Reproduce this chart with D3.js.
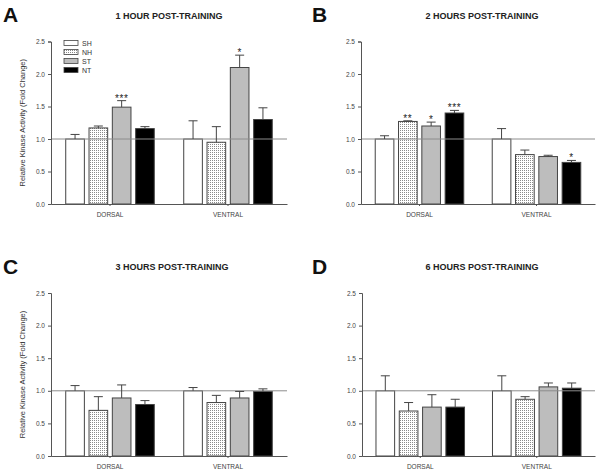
<!DOCTYPE html>
<html><head><meta charset="utf-8">
<script src="https://cdn.jsdelivr.net/npm/d3@7"></script>
<style>body{margin:0;background:#fff}svg{display:block;font-family:"Liberation Sans",Arial,sans-serif}</style>
</head><body>
<svg id="c" width="600" height="471"></svg>
<script>
const regions = ["DORSAL", "VENTRAL"];
const series = ["SH", "NH", "ST", "NT"];
const yTicks = [0, 0.5, 1.0, 1.5, 2.0, 2.5];
const panelLetters = ["A", "B", "C", "D"];
const panelTitles = ["1 HOUR POST-TRAINING", "2 HOURS POST-TRAINING", "3 HOURS POST-TRAINING", "6 HOURS POST-TRAINING"];
// means [region][series] per panel
const meansA = [[1.00, 1.17, 1.49, 1.16], [1.00, 0.95, 2.10, 1.30]];
const errTopA = [[1.07, 1.20, 1.59, 1.19], [1.28, 1.19, 2.29, 1.48]];
const starsA = [["", "", "***", ""], ["", "", "*", ""]];
const meansB = [[1.00, 1.27, 1.20, 1.40], [1.00, 0.76, 0.73, 0.64]];
const errTopB = [[1.05, 1.28, 1.26, 1.44], [1.16, 0.83, 0.75, 0.67]];
const starsB = [["", "**", "*", "***"], ["", "", "", "*"]];
const meansC = [[1.00, 0.70, 0.89, 0.79], [1.00, 0.82, 0.89, 0.99]];
const errTopC = [[1.08, 0.91, 1.09, 0.85], [1.05, 0.93, 0.99, 1.03]];
const starsC = [["", "", "", ""], ["", "", "", ""]];
const meansD = [[1.00, 0.69, 0.75, 0.75], [1.00, 0.87, 1.06, 1.04]];
const errTopD = [[1.23, 0.82, 0.94, 0.87], [1.23, 0.91, 1.12, 1.12]];
const starsD = [["", "", "", ""], ["", "", "", ""]];
const yLabel = "Relative Kinase Activity (Fold Change)";

const allMeans = [meansA, meansB, meansC, meansD];
const allErr = [errTopA, errTopB, errTopC, errTopD];
const allStars = [starsA, starsB, starsC, starsD];

const svg = d3.select("#c");
const defs = svg.append("defs");
const pat = defs.append("pattern").attr("id", "dots").attr("width", 2).attr("height", 2).attr("patternUnits", "userSpaceOnUse");
pat.append("rect").attr("width", 2).attr("height", 2).attr("fill", "#fff");
pat.append("rect").attr("width", 1).attr("height", 1).attr("fill", "#8a8a8a");

const fills = {SH: "#ffffff", NH: "url(#dots)", ST: "#bdbdbd", NT: "#000000"};

const layout = [
  {x0: 51, x1: 287, yBot: 204, yTop: 41.5, title: [169, 18.5], letter: [3, 22], ylab: true},
  {x0: 361, x1: 595, yBot: 204, yTop: 41.5, title: [482, 18.5], letter: [312, 22], ylab: false},
  {x0: 51, x1: 287, yBot: 456, yTop: 293, title: [172, 270], letter: [3, 274], ylab: true},
  {x0: 362, x1: 595, yBot: 456, yTop: 293, title: [482, 270], letter: [312, 274], ylab: false}
];

layout.forEach((L, p) => {
  const g = svg.append("g");
  const y = d3.scaleLinear().domain([0, 2.5]).range([L.yBot, L.yTop]);
  const x = d3.scaleBand().domain(regions).range([L.x0, L.x1]).padding(0);
  const half = 46.6;
  const xs = d3.scaleBand().domain(series).range([-half, half]).paddingInner(0.2).paddingOuter(0.1);

  g.append("text").attr("x", L.letter[0]).attr("y", L.letter[1]).attr("font-size", 21).attr("font-weight", "bold").attr("fill", "#111").text(panelLetters[p]);
  g.append("text").attr("x", L.title[0]).attr("y", L.title[1]).attr("text-anchor", "middle").attr("font-size", 9).attr("font-weight", "bold").attr("fill", "#222").text(panelTitles[p]);

  regions.forEach((r, ri) => {
    const cx = x(r) + x.bandwidth() / 2;
    series.forEach((s, si) => {
      const v = allMeans[p][ri][si];
      g.append("rect")
        .attr("x", cx + xs(s)).attr("width", xs.bandwidth())
        .attr("y", y(v)).attr("height", y(0) - y(v))
        .attr("fill", fills[s]).attr("stroke", "#444").attr("stroke-width", 1);
    });
  });

  g.append("line").attr("x1", L.x0).attr("x2", L.x1).attr("y1", y(1)).attr("y2", y(1)).attr("stroke", "#8c8c8c").attr("stroke-width", 1);

  regions.forEach((r, ri) => {
    const cx = x(r) + x.bandwidth() / 2;
    series.forEach((s, si) => {
      const v = allMeans[p][ri][si], e = allErr[p][ri][si];
      const bx = cx + xs(s) + xs.bandwidth() / 2;
      g.append("line").attr("x1", bx).attr("x2", bx).attr("y1", y(v)).attr("y2", y(e)).attr("stroke", "#444").attr("stroke-width", 1);
      g.append("line").attr("x1", bx - 4.5).attr("x2", bx + 4.5).attr("y1", y(e)).attr("y2", y(e)).attr("stroke", "#444").attr("stroke-width", 1);
      const st = allStars[p][ri][si];
      if (st) g.append("text").attr("x", bx).attr("y", y(e) + 1).attr("text-anchor", "middle").attr("font-size", 10).attr("letter-spacing", 0.6).attr("fill", "#222").text(st);
    });
  });

  const ya = g.append("g").attr("transform", `translate(${L.x0},0)`)
    .call(d3.axisLeft(y).tickValues(yTicks).tickFormat(d3.format(".1f")).tickSize(3).tickPadding(3));
  ya.select(".domain").attr("stroke", "#555");
  ya.selectAll(".tick line").attr("stroke", "#555");
  ya.selectAll("text").attr("font-size", 6.5).attr("fill", "#444").attr("font-family", "Liberation Sans, Arial, sans-serif");

  const xa = g.append("g").attr("transform", `translate(0,${L.yBot})`)
    .call(d3.axisBottom(x).tickSize(2).tickPadding(6).tickSizeOuter(0));
  xa.select(".domain").attr("stroke", "#555");
  xa.selectAll(".tick line").attr("stroke", "#555");
  xa.selectAll("text").attr("font-size", 6.5).attr("fill", "#444").attr("font-family", "Liberation Sans, Arial, sans-serif");

  if (L.ylab) {
    const my = (L.yBot + L.yTop) / 2;
    g.append("text").attr("transform", `translate(25,${my}) rotate(-90)`).attr("text-anchor", "middle")
      .attr("font-size", 7.5).attr("fill", "#333").text(yLabel);
  }

  if (p === 0) {
    const lg = g.append("g");
    series.forEach((s, i) => {
      const ly = 43 + i * 9;
      lg.append("rect").attr("x", 64).attr("y", ly - 2.5).attr("width", 14).attr("height", 5)
        .attr("fill", fills[s]).attr("stroke", "#444").attr("stroke-width", 0.8);
      lg.append("text").attr("x", 82).attr("y", ly + 2.5).attr("font-size", 7).attr("fill", "#333").text(s);
    });
  }
});
</script>
</body></html>
